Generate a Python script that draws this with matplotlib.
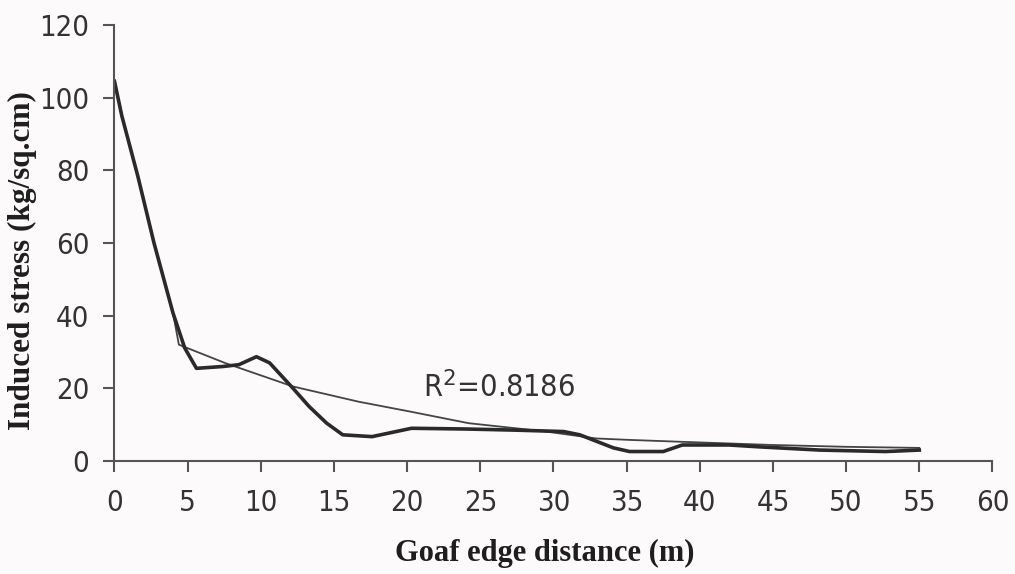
import matplotlib.pyplot as plt

# measured stress along the goaf edge (thick line)
dist = [0, 0.5, 1.6, 2.7, 4.0, 4.8, 5.6, 7.4, 8.5, 9.7, 10.6, 12.2, 13.3, 14.5, 15.6,
        17.6, 20.3, 24.0, 27.3, 30.7, 31.8, 34.1, 35.2, 37.5, 38.8, 42.0, 44.0,
        48.2, 52.7, 55.0]
stress = [104.5, 95, 78.3, 60, 40.7, 31.1, 25.5, 26.0, 26.5, 28.7, 27.0, 20.0, 15.0,
          10.4, 7.2, 6.7, 9.0, 8.8, 8.5, 8.1, 7.2, 3.6, 2.6, 2.6, 4.4, 4.4, 3.9,
          3.0, 2.6, 3.0]

# fitted trend (thin line)
trend_x = [0, 0.5, 1.6, 2.7, 4.0, 4.4, 7.6, 12.2, 16.7, 20.2, 24.2, 29.5, 32.9,
           35.2, 38.6, 45.0, 50.0, 55.0]
trend_y = [104.5, 95, 78.3, 60, 40.7, 32.0, 26.9, 20.5, 16.3, 13.6, 10.4, 8.1, 6.2,
           5.8, 5.3, 4.4, 3.9, 3.6]

r2_label = "R$^2$=0.8186"
x_ticks = list(range(0, 61, 5))
y_ticks = list(range(0, 121, 20))

bg = '#fdfafc'
ink = '#333333'

fig = plt.figure(figsize=(10.15, 5.74), dpi=100, facecolor=bg)
ax = fig.add_axes([0.1128, 0.1969, 0.865, 0.7596], facecolor=bg)

ax.plot(trend_x, trend_y, color='#444444', linewidth=1.3)
ax.plot(dist, stress, color='#2a2a2a', linewidth=2.6)

ax.text(21.1, 17.4, r2_label, fontsize=22, color=ink, va='baseline',
        family='DejaVu Sans', fontstretch='condensed')

ax.set_xlim(0, 60)
ax.set_ylim(0, 120)
ax.set_xticks(x_ticks)
ax.set_yticks(y_ticks)
for lab in ax.get_xticklabels() + ax.get_yticklabels():
    lab.set_family('DejaVu Sans')
    lab.set_fontstretch('condensed')
    lab.set_fontsize(21)
    lab.set_color(ink)

ax.spines['top'].set_visible(False)
ax.spines['right'].set_visible(False)
for s in ('left', 'bottom'):
    ax.spines[s].set_color('#555555')
    ax.spines[s].set_linewidth(1.5)
ax.tick_params(direction='out', length=8, width=1.5, color='#555555')
ax.tick_params(axis='x', pad=12)
ax.tick_params(axis='y', pad=10)

ax.set_xlabel('Goaf edge distance (m)', family='Liberation Serif', fontweight='bold',
              fontsize=22, color='#1e1e1e')
ax.set_ylabel('Induced stress (kg/sq.cm)', family='Liberation Serif', fontweight='bold',
              fontsize=22.5, color='#1e1e1e')
ax.xaxis.set_label_coords(0.49, -0.178)
ax.yaxis.set_label_coords(-0.088, 0.46)

fig.savefig('out.png', dpi=100, facecolor=bg)
